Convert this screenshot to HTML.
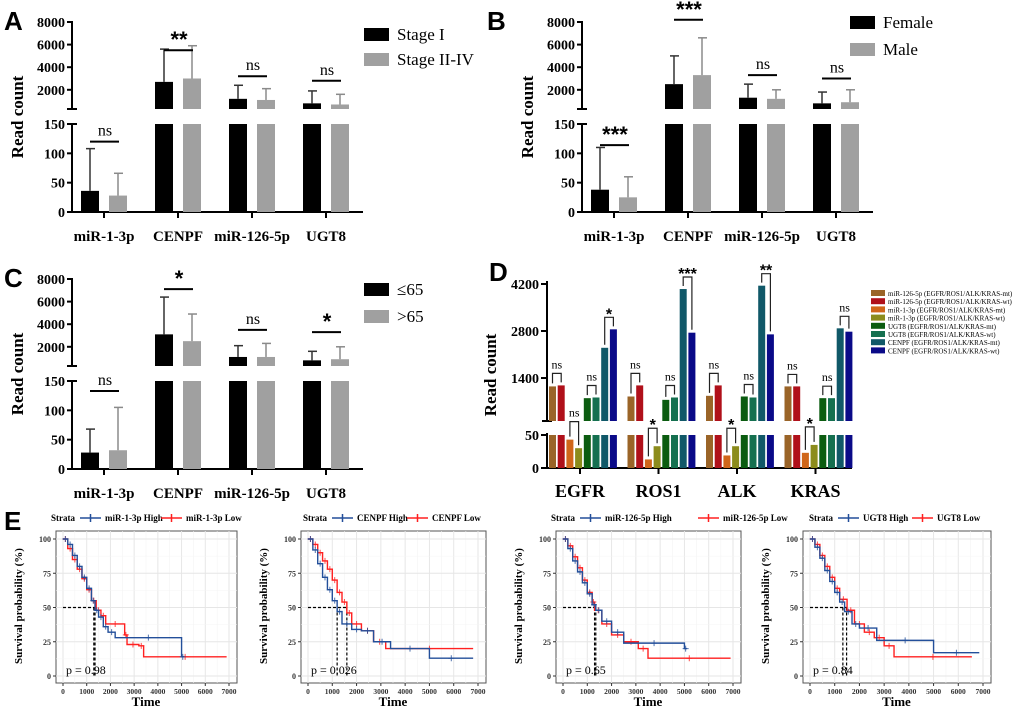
<!DOCTYPE html>
<html><head><meta charset="utf-8"><style>
html,body{margin:0;padding:0;background:#fff;width:1020px;height:710px;overflow:hidden}
svg{display:block}
text{font-family:"Liberation Serif",serif}
</style></head><body>
<svg id="fig" width="1020" height="710" xmlns="http://www.w3.org/2000/svg"></svg>
<script>
// ---------- Panel A/B/C data ----------
const genes = ["miR-1-3p","CENPF","miR-126-5p","UGT8"];
const aMean1 = [36,2700,1200,800];
const aErr1  = [108,5600,2400,1900];
const aMean2 = [28,3000,1100,700];
const aErr2  = [66,5900,2100,1600];
const aSig   = ["ns","**","ns","ns"];
const aSigY  = [120,5500,3200,2800];
const aLegend = ["Stage I","Stage II-IV"];

const bMean1 = [38,2500,1300,800];
const bErr1  = [110,5000,2500,1800];
const bMean2 = [25,3300,1200,900];
const bErr2  = [60,6600,2000,2000];
const bSig   = ["***","***","ns","ns"];
const bSigY  = [114,8200,3300,3000];
const bLegend = ["Female","Male"];

const cMean1 = [28,3100,1100,800];
const cErr1  = [68,6400,2100,1600];
const cMean2 = [32,2500,1100,900];
const cErr2  = [105,4900,2300,2000];
const cSig   = ["ns","*","ns","*"];
const cSigY  = [133,7100,3500,3300];
const cLegend = ["\u226465",">65"];

const upperTicks = [2000,4000,6000,8000];
const lowerTicks = [0,50,100,150];

// ---------- Panel D data ----------
const mutGenes = ["EGFR","ROS1","ALK","KRAS"];
const dSeriesNames = ["miR-126-5p (EGFR/ROS1/ALK/KRAS-mt)","miR-126-5p (EGFR/ROS1/ALK/KRAS-wt)","miR-1-3p (EGFR/ROS1/ALK/KRAS-mt)","miR-1-3p (EGFR/ROS1/ALK/KRAS-wt)","UGT8 (EGFR/ROS1/ALK/KRAS-mt)","UGT8 (EGFR/ROS1/ALK/KRAS-wt)","CENPF (EGFR/ROS1/ALK/KRAS-mt)","CENPF (EGFR/ROS1/ALK/KRAS-wt)"];
const dColors = ["#9a6428","#b0101a","#d0661a","#8c8c1c","#0b5c10","#157050","#105868","#0a0a88"];
const dEGFR = [1150,1180,43,30,800,820,2300,2850];
const dROS1 = [850,1180,13,33,750,820,4050,2750];
const dALK  = [870,1180,19,33,850,820,4150,2700];
const dKRAS = [1150,1150,23,35,800,800,2880,2780];
const dSigEGFR = ["ns","ns","ns","*"];
const dSigROS1 = ["ns","*","ns","***"];
const dSigALK  = ["ns","*","ns","**"];
const dSigKRAS = ["ns","*","ns","ns"];
const dUpperTicks = [1400,2800,4200];
const dLowerTicks = [0,50];

// ---------- Panel E data ----------
const kmTitles = [["miR-1-3p High","miR-1-3p Low"],["CENPF High","CENPF Low"],["miR-126-5p High","miR-126-5p Low"],["UGT8 High","UGT8 Low"]];
const kmP = ["p = 0.98","p = 0.026","p = 0.65","p = 0.84"];
const km1HighT=[0,200,400,600,800,1000,1200,1350,1500,1700,1900,2200,5000,5100];
const km1HighS=[100,96,88,80,72,64,55,48,43,36,32,28,14,14];
const km1LowT=[0,200,400,600,800,1000,1200,1400,1600,1800,2600,2700,3200,3400,6900];
const km1LowS=[100,93,85,78,71,63,55,48,44,38,30,23,22,14,14];
const km2HighT=[0,200,400,600,800,1000,1200,1400,1800,2200,2700,3400,5000,6800];
const km2HighS=[100,92,82,72,63,55,47,38,34,33,25,20,13,13];
const km2LowT=[0,200,400,600,800,1000,1200,1400,1600,1800,2200,2700,3200,6800];
const km2LowS=[100,96,90,84,78,70,61,54,46,38,33,25,20,20];
const km3HighT=[0,200,400,600,800,1000,1200,1350,1600,2000,2500,5000,5100];
const km3HighS=[100,93,84,76,68,60,52,48,40,32,24,20,20];
const km3LowT=[0,200,400,600,800,1000,1200,1300,1600,2000,2500,3100,3500,6900];
const km3LowS=[100,95,87,79,70,61,54,48,38,30,25,20,13,13];
const km4HighT=[0,200,400,600,800,1000,1200,1400,1700,2000,2700,5000,6850];
const km4HighS=[100,94,86,77,69,61,54,47,38,35,26,17,17];
const km4LowT=[0,200,400,600,800,1000,1200,1500,1800,2200,2600,3000,3400,6550];
const km4LowS=[100,96,88,80,72,64,56,48,38,32,28,22,14,14];
const kmMedHigh=[1300,1200,1300,1330];
const kmMedLow=[1350,1600,1350,1480];

const NS="http://www.w3.org/2000/svg";
const svg=document.getElementById('fig');
function el(tag,attrs,parent,txt){const e=document.createElementNS(NS,tag);for(const k in attrs)e.setAttribute(k,attrs[k]);if(txt!==undefined)e.textContent=txt;(parent||svg).appendChild(e);return e;}
function grp(name){const g=el('g',{});return g;}

function panelLetter(ch,x,y){const t=el('text',{x:x,y:y,'font-weight':'bold','font-size':26,fill:'#000'},svg,ch);t.style.fontFamily='"Liberation Sans",sans-serif';

}

function barPanel(name,ox,oy,m1,e1,m2,e2,sig,sigY,leg,legX,legY,legGap){
 const g=grp(name);
 const ax=ox+72;
 const uTop=oy+22,uBot=oy+109,vTop=8000,vBot=300;
 const lTop=oy+124,lBot=oy+212,lMax=150;
 const uy=v=>uBot-(v-vBot)/(vTop-vBot)*(uBot-uTop);
 const ly=v=>lBot-v/lMax*(lBot-lTop);
 const yOf=v=>v<=lMax?ly(v):uy(v);
 el('line',{x1:ax,y1:uTop-1,x2:ax,y2:uBot,stroke:'#000','stroke-width':2},g);
 el('line',{x1:ax-5,y1:uBot,x2:ax+5,y2:uBot,stroke:'#000','stroke-width':2},g);
 el('line',{x1:ax,y1:lTop-1,x2:ax,y2:lBot,stroke:'#000','stroke-width':2},g);
 el('line',{x1:ax-5,y1:lTop,x2:ax+5,y2:lTop,stroke:'#000','stroke-width':2},g);
 el('line',{x1:ax,y1:lBot,x2:ax+291,y2:lBot,stroke:'#000','stroke-width':2},g);
 upperTicks.forEach(t=>{const y=uy(t);el('line',{x1:ax-5,y1:y,x2:ax,y2:y,stroke:'#000','stroke-width':2},g);
  const tx=el('text',{x:ax-7,y:y+5,'text-anchor':'end','font-weight':'bold','font-size':14},g,t);
  });
 lowerTicks.forEach(t=>{const y=ly(t);el('line',{x1:ax-5,y1:y,x2:ax,y2:y,stroke:'#000','stroke-width':2},g);
  const tx=el('text',{x:ax-7,y:y+5,'text-anchor':'end','font-weight':'bold','font-size':14},g,t);
  });
 const yt=el('text',{x:0,y:0,transform:`translate(${ox+23},${oy+117}) rotate(-90)`,'text-anchor':'middle','font-weight':'bold','font-size':17},g,'Read count');
 
 const bw=18;
 genes.forEach((gn,i)=>{
  const cx=ax+32+i*74;
  el('line',{x1:cx,y1:lBot,x2:cx,y2:lBot+6,stroke:'#000','stroke-width':2},g);
  const xl=el('text',{x:cx,y:oy+241,'text-anchor':'middle','font-weight':'bold','font-size':15},g,gn);
  
  [[m1[i],e1[i],'#000',cx-23],[m2[i],e2[i],'#a0a0a0',cx+5]].forEach(([m,e,c,bx],k)=>{
   let r;
   if(m<=lMax){r=el('rect',{x:bx,y:ly(m),width:bw,height:lBot-ly(m),fill:c},g);}
   else{r=el('rect',{x:bx,y:lTop,width:bw,height:lBot-lTop,fill:c},g);
     const r2=el('rect',{x:bx,y:uy(m),width:bw,height:uBot-uy(m),fill:c},g);
     }
   
   const bc=bx+bw/2;
   const ec=k?'#8a8a8a':'#333';
   el('line',{x1:bc,y1:yOf(m),x2:bc,y2:yOf(e),stroke:ec,'stroke-width':1.5},g);
   el('line',{x1:bc-4,y1:yOf(e),x2:bc+5,y2:yOf(e),stroke:ec,'stroke-width':1.5},g);
  });
  const sy=yOf(sigY[i]);
  el('line',{x1:cx-14,y1:sy,x2:cx+15,y2:sy,stroke:'#000','stroke-width':2},g);
  const isStar=sig[i]!=='ns';
  const st=el('text',{x:cx+1,y:isStar?sy-3:sy-6,'text-anchor':'middle','font-weight':isStar?'bold':'normal','font-size':isStar?22:16},g,sig[i]);
  if(isStar)st.style.fontFamily='"Liberation Sans",sans-serif';
  
 });
 leg.forEach((lbl,k)=>{
  const y=legY+k*legGap;
  const r=el('rect',{x:legX,y:y,width:25,height:13,fill:k?'#a0a0a0':'#000'},g);
  
  const t=el('text',{x:legX+33,y:y+12,'font-size':17},g,lbl);
  
 });
}
panelLetter('A',4,30);
barPanel('panel-a-chart',0,0,aMean1,aErr1,aMean2,aErr2,aSig,aSigY,aLegend,364,28,25);
panelLetter('B',487,30);
barPanel('panel-b-chart',510,0,bMean1,bErr1,bMean2,bErr2,bSig,bSigY,bLegend,850,16,27);
panelLetter('C',4,287);
barPanel('panel-c-chart',0,257,cMean1,cErr1,cMean2,cErr2,cSig,cSigY,cLegend,364,283,27);

// ---------- Panel D ----------
panelLetter('D',489,281);
(function(){
 const g=grp('panel-d-chart');
 const ax=547,uTop=284,uBot=421,vTop=4200,vBot=120,lTop=435,lBot=468,lMax=50;
 const uy=v=>uBot-(v-vBot)/(vTop-vBot)*(uBot-uTop);
 const ly=v=>lBot-v/lMax*(lBot-lTop);
 const yOf=v=>v<=lMax?ly(v):uy(v);
 el('line',{x1:ax,y1:uTop-3,x2:ax,y2:uBot,stroke:'#000','stroke-width':2},g);
 el('line',{x1:ax-5,y1:uBot,x2:ax+5,y2:uBot,stroke:'#000','stroke-width':2},g);
 el('line',{x1:ax,y1:lTop-2,x2:ax,y2:lBot,stroke:'#000','stroke-width':2},g);
 el('line',{x1:ax,y1:lBot,x2:ax+305,y2:lBot,stroke:'#000','stroke-width':2},g);
 dUpperTicks.forEach(t=>{const y=uy(t);el('line',{x1:ax-6,y1:y,x2:ax,y2:y,stroke:'#000','stroke-width':2},g);
  const tx=el('text',{x:ax-8,y:y+5,'text-anchor':'end','font-weight':'bold','font-size':14},g,t);
  });
 dLowerTicks.forEach(t=>{const y=ly(t);el('line',{x1:ax-6,y1:y,x2:ax,y2:y,stroke:'#000','stroke-width':2},g);
  const tx=el('text',{x:ax-8,y:y+5,'text-anchor':'end','font-weight':'bold','font-size':14},g,t);
  });
 const yt=el('text',{x:0,y:0,transform:'translate(496,375) rotate(-90)','text-anchor':'middle','font-weight':'bold','font-size':17},g,'Read count');
 
 const vals=[dEGFR,dROS1,dALK,dKRAS];
 const sigs=[dSigEGFR,dSigROS1,dSigALK,dSigKRAS];
 mutGenes.forEach((gn,i)=>{
  const cx=580+i*78.5;
  el('line',{x1:cx,y1:lBot,x2:cx,y2:lBot+6,stroke:'#000','stroke-width':2},g);
  const xl=el('text',{x:cx,y:497,'text-anchor':'middle','font-weight':'bold','font-size':18},g,gn);
  
  const x0=cx-31,st=8.7,bw=7;
  vals[i].forEach((v,j)=>{
   const bx=x0+j*st;
   let r;
   if(v<=lMax){r=el('rect',{x:bx,y:ly(v),width:bw,height:lBot-ly(v),fill:dColors[j]},g);}
   else{r=el('rect',{x:bx,y:lTop,width:bw,height:lBot-lTop,fill:dColors[j]},g);
    const r2=el('rect',{x:bx,y:uy(v),width:bw,height:uBot-uy(v),fill:dColors[j]},g);
    }
   
  });
  for(let p=0;p<4;p++){
   const va=vals[i][2*p],vb=vals[i][2*p+1];
   const ya=yOf(va),yb=yOf(vb);
   const by=Math.min(ya,yb)-(p===1?18:12);
   const xa=x0+2*p*st+bw/2,xb=xa+st;
   el('polyline',{points:`${xa},${ya-3} ${xa},${by} ${xb},${by} ${xb},${yb-3}`,fill:'none',stroke:'#222','stroke-width':1.2},g);
   const s=sigs[i][p];const star=s!=='ns';
   const t=el('text',{x:(xa+xb)/2,y:star?by+2:by-5,'text-anchor':'middle','font-weight':star?'bold':'normal','font-size':star?16:12},g,s);
   if(star)t.style.fontFamily='"Liberation Sans",sans-serif';
   
  }
 });
 dSeriesNames.forEach((n,j)=>{
  const y=290+j*8.2;
  const r=el('rect',{x:871,y:y,width:14,height:6,fill:dColors[j]},g);
  
  const t=el('text',{x:888,y:y+6,'font-size':7},g,n);
  
 });
})();

// ---------- Panel E ----------
panelLetter('E',4,530);
const kmX0=[63,308,563,810];
const kmW=[166,170,170,173];
const kmStrataX=[51,303,551,809];
const kmLegRed=[110,104,147,103];
const kmData=[[km1HighT,km1HighS,km1LowT,km1LowS],[km2HighT,km2HighS,km2LowT,km2LowS],[km3HighT,km3HighS,km3LowT,km3LowS],[km4HighT,km4HighS,km4LowT,km4LowS]];
kmData.forEach((d,pi)=>{
 const g=grp('km-plot-'+(pi+1));
 const x0=kmX0[pi],w=kmW[pi];
 const sx=t=>x0+t/7000*w;
 const sy=s=>676-s/100*137;
 const bl=x0-7,br=sx(7000)+8,bt=531,bb=683;
 el('rect',{x:bl,y:bt,width:br-bl,height:bb-bt,fill:'#fff',stroke:'#555','stroke-width':1},g);
 for(let t=0;t<=7000;t+=500){el('line',{x1:sx(t),y1:bt,x2:sx(t),y2:bb,stroke:t%1000?'#f4f4f4':'#e6e6e6','stroke-width':t%1000?0.6:1},g);}
 for(let s=0;s<=100;s+=12.5){el('line',{x1:bl,y1:sy(s),x2:br,y2:sy(s),stroke:s%25?'#f4f4f4':'#e6e6e6','stroke-width':s%25?0.6:1},g);}
 [0,25,50,75,100].forEach(s=>{
  el('line',{x1:bl-3,y1:sy(s),x2:bl,y2:sy(s),stroke:'#333'},g);
  const t=el('text',{x:bl-5,y:sy(s)+3,'text-anchor':'end','font-size':8,'font-weight':'bold',fill:'#333'},g,s);
  });
 for(let t=0;t<=7000;t+=1000){
  el('line',{x1:sx(t),y1:bb,x2:sx(t),y2:bb+3,stroke:'#333'},g);
  const tx=el('text',{x:sx(t),y:bb+11,'text-anchor':'middle','font-size':7.5,'font-weight':'bold',fill:'#333'},g,t);
  }
 const yt=el('text',{x:0,y:0,transform:`translate(${x0-41},606) rotate(-90)`,'text-anchor':'middle','font-weight':'bold','font-size':11},g,'Survival probability (%)');
 
 const xt=el('text',{x:sx(3500),y:706,'text-anchor':'middle','font-weight':'bold','font-size':13},g,'Time');
 
 const mh=kmMedHigh[pi],ml=kmMedLow[pi];
 el('line',{x1:sx(0),y1:sy(50),x2:sx(Math.max(mh,ml)),y2:sy(50),stroke:'#000','stroke-dasharray':'3,2','stroke-width':1.2},g);
 [mh,ml].forEach(m=>el('line',{x1:sx(m),y1:sy(50),x2:sx(m),y2:sy(0),stroke:'#000','stroke-dasharray':'3,2','stroke-width':1.2},g));
 [[d[2],d[3],'#ff2020','low'],[d[0],d[1],'#234f9a','high']].forEach(([T,S,c,nm])=>{
  let pts=`${sx(T[0])},${sy(S[0])}`;
  for(let k=1;k<T.length;k++){pts+=` ${sx(T[k])},${sy(S[k-1])} ${sx(T[k])},${sy(S[k])}`;}
  const pl=el('polyline',{points:pts,fill:'none',stroke:c,'stroke-width':1.4},g);
  
  for(let k=1;k<T.length;k++){const x=(sx(T[k-1])+sx(T[k]))/2,y=sy(S[k-1]);
   el('path',{d:`M${x-3},${y}h6M${x},${y-3}v6`,stroke:c,'stroke-width':1,opacity:0.8},g);}
 });
 const pt=el('text',{x:x0+3,y:674,'font-size':12},g,kmP[pi]);
 
 const lx=kmStrataX[pi];
 const stt=el('text',{x:lx,y:521,'font-size':9,'font-weight':'bold'},g,'Strata');
 
 [[0,'#234f9a'],[1,'#ff2020']].forEach(([k,c])=>{
  const sxl=lx+(k?kmLegRed[pi]:29);
  const sw=el('path',{d:`M${sxl},518h21M${sxl+10.5},514v8`,stroke:c,'stroke-width':1.5},g);
  
  const t=el('text',{x:sxl+25,y:521,'font-size':9,'font-weight':'bold'},g,kmTitles[pi][k]);
  
 });
});
</script>
</body></html>
